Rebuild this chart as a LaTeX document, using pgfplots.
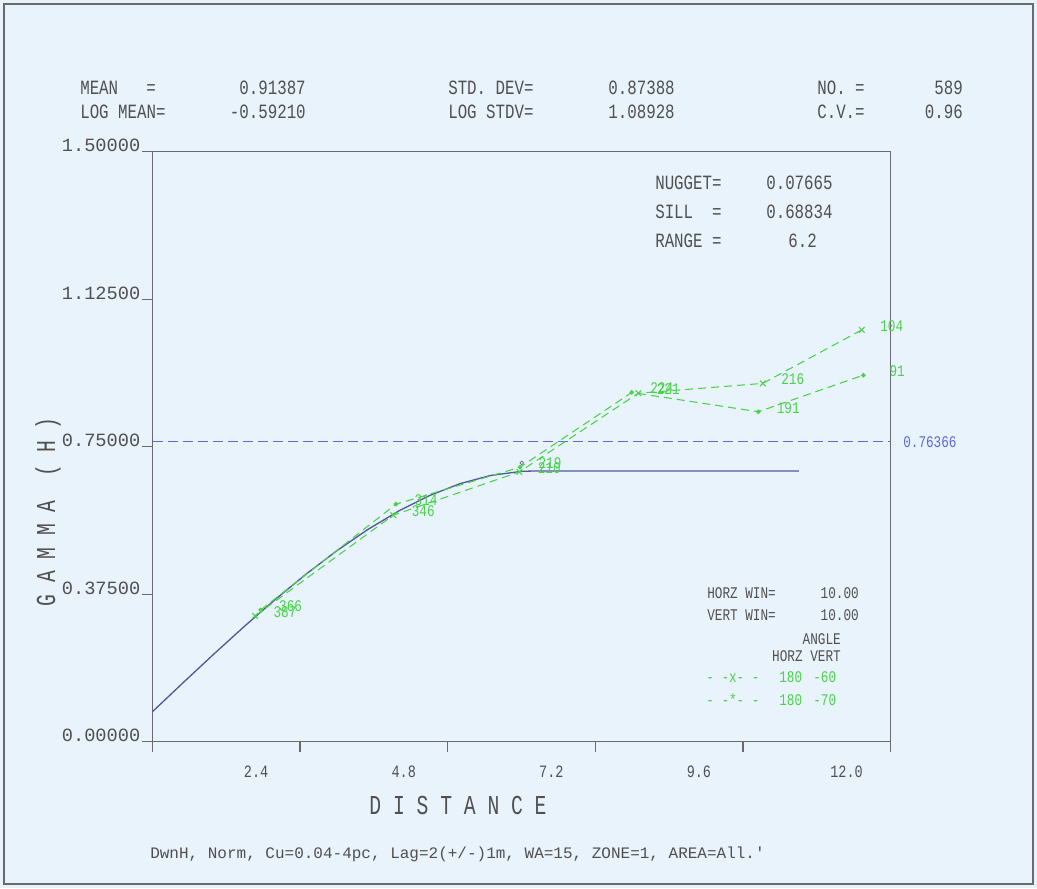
\documentclass[border=0pt]{standalone}
\usepackage{fontspec}
\setmainfont{Liberation Mono}[FakeStretch=0.78]
\newfontfamily\plainmono{Liberation Mono}
\newfontfamily\labfont{Liberation Mono}[FakeStretch=0.72]
\usepackage{pgfplots}
\pgfplotsset{compat=1.18}

\definecolor{bg}{RGB}{233,243,252}
\definecolor{framegray}{RGB}{105,105,110}
\definecolor{txt}{RGB}{80,80,80}
\definecolor{vgreen}{RGB}{75,210,75}
\definecolor{model}{RGB}{85,88,155}
\definecolor{sillblue}{RGB}{95,105,215}

\newcommand\bigtxt{\fontsize{15.2}{18}\selectfont}
\newcommand\smtxt{\fontsize{12.2}{14}\selectfont}

\begin{document}
\begin{tikzpicture}
% everything outside the axis is laid out in pixels of the 1037x888 reference
\begin{scope}[x=0.75pt,y=-0.75pt]
  \fill[bg] (0,0) rectangle (1037,888);
  \draw[framegray, line width=1.2pt] (4,4) rectangle (1033,884);
  \begin{scope}[every node/.style={inner sep=0, text=txt, font=\bigtxt}]
    % summary statistics
    \node[anchor=base west] at (80,95) {MEAN};
    \node[anchor=base west] at (146,95) {=};
    \node[anchor=base east] at (306,95) {0.91387};
    \node[anchor=base west] at (448,95) {STD. DEV=};
    \node[anchor=base east] at (675,95) {0.87388};
    \node[anchor=base west] at (817,95) {NO.\ =};
    \node[anchor=base east] at (963,95) {589};
    \node[anchor=base west] at (80,119) {LOG MEAN=};
    \node[anchor=base east] at (306,119) {-0.59210};
    \node[anchor=base west] at (448,119) {LOG STDV=};
    \node[anchor=base east] at (675,119) {1.08928};
    \node[anchor=base west] at (817,119) {C.V.=};
    \node[anchor=base east] at (963,119) {0.96};
    % model parameters
    \node[anchor=base west] at (655,189) {NUGGET=};
    \node[anchor=base west] at (766,189) {0.07665};
    \node[anchor=base west] at (655,218) {SILL\ \ =};
    \node[anchor=base west] at (766,218) {0.68834};
    \node[anchor=base west] at (655,247) {RANGE =};
    \node[anchor=base east] at (817,247) {6.2};
  \end{scope}
  \begin{scope}[every node/.style={inner sep=0, text=txt, font=\smtxt}]
    \node[anchor=base west] at (707,598) {HORZ WIN=};
    \node[anchor=base east] at (859,598) {10.00};
    \node[anchor=base west] at (707,620) {VERT WIN=};
    \node[anchor=base east] at (859,620) {10.00};
    \node[anchor=base east] at (841,644) {ANGLE};
    \node[anchor=base east] at (841,661) {HORZ VERT};
    \node[anchor=base west, text=vgreen] at (706,682) {- -x- -};
    \node[anchor=base west, text=vgreen] at (779,682) {180};
    \node[anchor=base west, text=vgreen] at (813,682) {-60};
    \node[anchor=base west, text=vgreen] at (706,705) {- -*- -};
    \node[anchor=base west, text=vgreen] at (779,705) {180};
    \node[anchor=base west, text=vgreen] at (813,705) {-70};
    \node[anchor=base west, text=sillblue] at (903,447) {0.76366};
  \end{scope}
  % axis titles and footer
  \node[inner sep=0, text=txt, font={\labfont\fontsize{20.5}{24}\selectfont}] at (458,805) {D I S T A N C E};
  \node[inner sep=0, text=txt, rotate=90, font={\labfont\fontsize{20.5}{24}\selectfont}] at (48,512) {G A M M A \ ( H )};
  \node[inner sep=0, anchor=base west, text=txt, font={\plainmono\fontsize{12}{14}\selectfont}] at (150,858) {DwnH, Norm, Cu=0.04-4pc, Lag=2(+/-)1m, WA=15, ZONE=1, AREA=All.'};
\end{scope}

\begin{axis}[
  at={(114.4pt,-556.3pt)}, anchor=south west,
  scale only axis, width=553.5pt, height=442.5pt,
  xmin=0, xmax=12, ymin=0, ymax=1.5,
  clip=false,
  axis line style={framegray, line width=1.1pt},
  tick style={framegray, line width=1.1pt},
  tick align=outside, major tick length=8pt, tick pos=left,
  xtick={0,2.4,4.8,7.2,9.6,12}, xticklabels={,2.4,4.8,7.2,9.6,12.0},
  ytick={0,0.375,0.75,1.125,1.5},
  yticklabels={0.00000,0.37500,0.75000,1.12500,1.50000},
  xticklabel style={font=\fontsize{13}{15}\selectfont, text=txt, inner sep=0, anchor=north, xshift=-33pt, yshift=-10pt},
  yticklabel style={font={\plainmono\fontsize{14}{16}\selectfont}, text=txt, inner sep=0, anchor=east, xshift=-1pt, yshift=4.5pt},
  pairlab/.style={nodes near coords, point meta=explicit symbolic,
    every node near coord/.style={anchor=base west, inner sep=0, xshift=13.5pt, yshift=-1pt, text=vgreen, font=\smtxt}},
]
% sill of the data
\addplot[draw=sillblue, line width=1.2pt, dash pattern=on 7.5pt off 3.75pt] coordinates {(0,0.76366) (12,0.76366)};
% spherical model: nugget 0.07665, sill 0.68834, range 6.2
\addplot[draw=model, line width=1pt] coordinates {
  (0,0.07665) (0.5,0.15048) (1,0.22336) (1.5,0.29430) (2,0.36236)
  (2.5,0.42657) (3,0.48597) (3.5,0.53959) (4,0.58648) (4.5,0.62566)
  (5,0.65619) (5.5,0.67709) (6,0.68740) (6.2,0.68834) (10.51,0.68834)};
% experimental variogram, angle 180 / -60
\addplot[vgreen, line width=0.8pt, dash pattern=on 6pt off 3.75pt,
  mark=x, mark size=3pt, mark options={solid}, pairlab] table[meta=lab] {
x      y      lab
1.667  0.320  387
3.915  0.576  346
5.964  0.686  210
7.899  0.886  221
9.922  0.911  216
11.532 1.047  104
};
% experimental variogram, angle 180 / -70
\addplot[vgreen, line width=0.8pt, dash pattern=on 6pt off 3.75pt,
  mark=*, mark size=1.3pt, mark options={solid}, pairlab] table[meta=lab] {
x      y      lab
1.759  0.335  366
3.959  0.604  314
5.976  0.698  219
7.792  0.888  224
9.850  0.839  191
11.558 0.932  \phantom{1}91
};
\addplot[only marks, mark=o, mark size=1.4pt, black!65] coordinates {(6.003,0.709)};
\end{axis}
\end{tikzpicture}
\end{document}
